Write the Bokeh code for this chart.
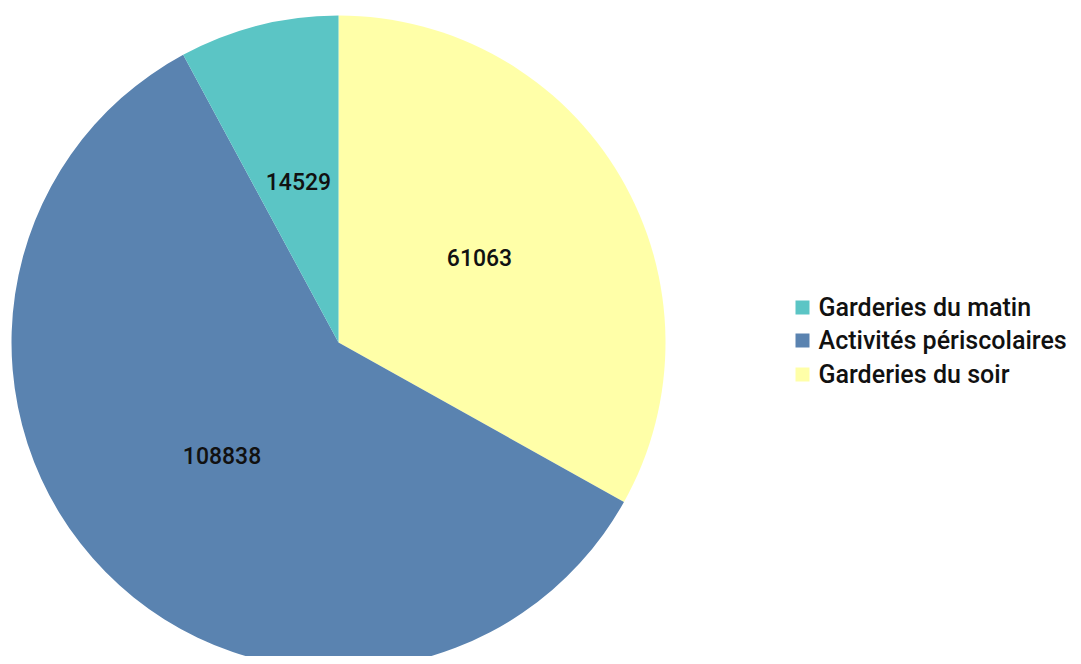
import math
from bokeh.plotting import figure
from bokeh.models import Range1d, ColumnDataSource
from bokeh.core.properties import value
from bokeh.embed import file_html
from bokeh.resources import INLINE

# Data (drawing order: clockwise from 12 o'clock)
categories = ["Garderies du soir", "Activités périscolaires", "Garderies du matin"]
values = [61063, 108838, 14529]
colors = ["#FFFFA8", "#5A83B0", "#5BC5C5"]
legend_order = ["Garderies du matin", "Activités périscolaires", "Garderies du soir"]

R = 327
total = sum(values)
starts, ends, lx, ly, labels = [], [], [], [], []
acc = 0.0
for v in values:
    a0 = math.pi / 2 - 2 * math.pi * acc / total
    acc += v
    a1 = math.pi / 2 - 2 * math.pi * acc / total
    starts.append(a0)
    ends.append(a1)
    mid = (a0 + a1) / 2
    lx.append(0.5 * R * math.cos(mid))
    ly.append(0.5 * R * math.sin(mid) + 2)
    labels.append(str(v))

src = ColumnDataSource(dict(cat=categories, val=values, color=colors,
                            start=starts, end=ends, lx=lx, ly=ly, label=labels))

W, H = 1073, 656
p = figure(width=W, height=H, output_backend="svg", toolbar_location=None,
           x_range=Range1d(-338, 735), y_range=Range1d(-314, 342),
           min_border=0, outline_line_color=None)
p.axis.visible = False
p.grid.visible = False
p.background_fill_color = "white"
p.border_fill_color = "white"

p.wedge(x=0, y=0, radius=R, start_angle="start", end_angle="end",
        direction="clock", fill_color="color", line_color=None, source=src)

FONT = value("Roboto Medium")
p.text(x="lx", y="ly", text="label", source=src, text_align="center",
       text_baseline="middle", text_font=FONT, text_font_size="23px",
       text_color="#111111")

# Legend (manual)
cmap = dict(zip(categories, colors))
leg_colors = [cmap[c] for c in legend_order]
leg_y = [342 - 307, 342 - 340, 342 - 374]
leg_src = ColumnDataSource(dict(y=leg_y, color=leg_colors, label=legend_order,
                                sx=[802 - 338] * 3, tx=[818 - 338] * 3))
p.rect(x="sx", y="y", width=14, height=14, fill_color="color", line_color=None, source=leg_src)
p.text(x="tx", y="y", text="label", source=leg_src, text_align="left",
       text_baseline="middle", text_font=FONT, text_font_size="25px",
       text_color="#111111")

open("out.html", "w").write(file_html(p, INLINE))
